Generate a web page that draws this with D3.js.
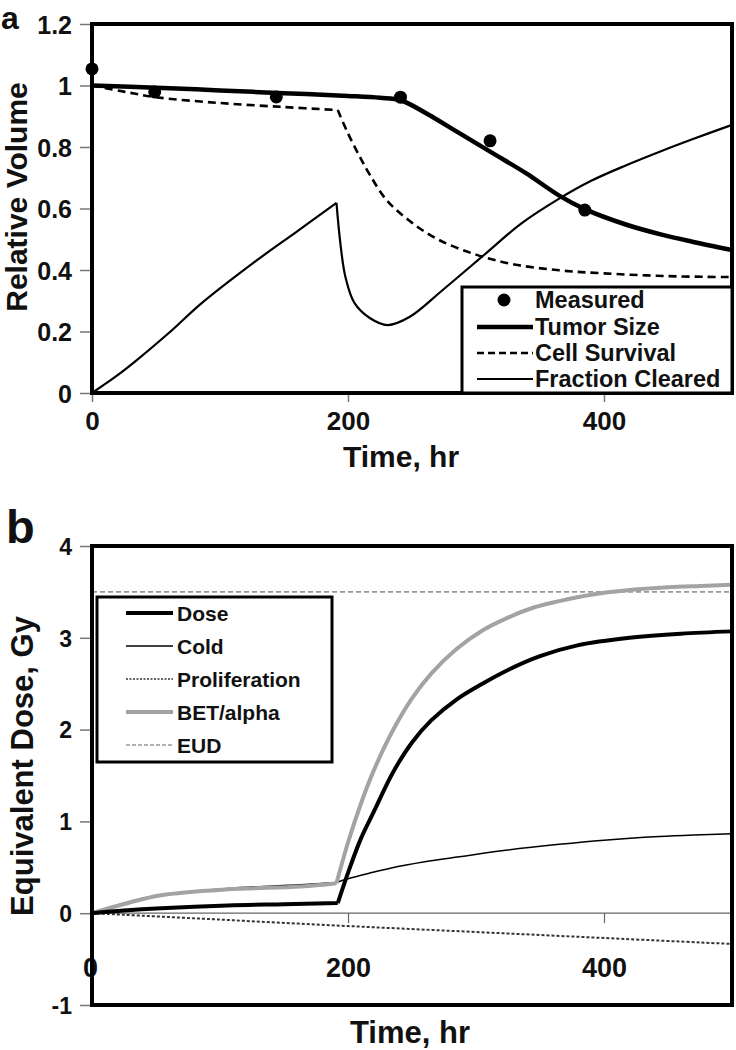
<!DOCTYPE html>
<html>
<head>
<meta charset="utf-8">
<script src="https://cdn.jsdelivr.net/npm/d3@7"></script>
<style>
html,body{margin:0;padding:0;background:#fff;}
svg{display:block;}
text{font-family:"Liberation Sans",Arial,Helvetica,sans-serif;font-weight:bold;fill:#111;}
</style>
</head>
<body>
<svg id="chart" width="736" height="1050"></svg>
<script>
// ---------- Panel a data ----------
const measuredT = [0, 49, 144, 241, 311, 385];
const measuredV = [1.054, 0.979, 0.963, 0.962, 0.82, 0.595];

const tumorT = [0, 50, 100, 150, 200, 225, 241, 261, 287, 313, 339, 365, 385, 417, 445, 469, 500];
const tumorV = [1.0, 0.993, 0.984, 0.975, 0.966, 0.96, 0.952, 0.91, 0.845, 0.78, 0.715, 0.642, 0.598, 0.548, 0.515, 0.492, 0.465];

const survivalT = [0, 25, 50, 100, 150, 192, 200, 209, 217, 230, 248, 270, 300, 330, 365, 400, 450, 500];
const survivalV = [1.0, 0.98, 0.962, 0.943, 0.93, 0.92, 0.844, 0.77, 0.71, 0.628, 0.56, 0.50, 0.45, 0.418, 0.399, 0.389, 0.38, 0.377];
const survivalBreaks = [192];

const clearedT = [0, 20, 35, 60, 85, 125, 160, 191, 194, 198, 205, 217, 231, 248, 274, 308, 335, 365, 390, 417, 445, 469, 500];
const clearedV = [0, 0.058, 0.107, 0.195, 0.29, 0.42, 0.525, 0.618, 0.488, 0.377, 0.293, 0.244, 0.221, 0.247, 0.335, 0.455, 0.55, 0.632, 0.69, 0.74, 0.787, 0.825, 0.872];
const clearedBreaks = [191];

const aYTicks = [0, 0.2, 0.4, 0.6, 0.8, 1, 1.2];
const aXTicks = [0, 200, 400];
const aLegend = ["Measured", "Tumor Size", "Cell Survival", "Fraction Cleared"];

// ---------- Panel b data ----------
const doseT = [0, 25, 54, 106, 150, 192, 200, 210, 220, 235, 250, 265, 285, 305, 325, 350, 380, 420, 460, 500];
const doseV = [0, 0.03, 0.055, 0.085, 0.098, 0.11, 0.44, 0.81, 1.1, 1.53, 1.86, 2.1, 2.33, 2.5, 2.65, 2.8, 2.92, 3.0, 3.045, 3.07];
const doseBreaks = [192];

const coldT = [0, 25, 54, 106, 163, 191, 200, 215, 233, 260, 287, 320, 365, 400, 443, 470, 500];
const coldV = [0, 0.11, 0.2, 0.27, 0.31, 0.335, 0.375, 0.43, 0.49, 0.56, 0.615, 0.68, 0.75, 0.795, 0.835, 0.852, 0.865];
const coldBreaks = [191];

const prolifT = [0, 100, 200, 300, 400, 500];
const prolifV = [0, -0.07, -0.14, -0.205, -0.27, -0.335];

const betT = [0, 25, 54, 106, 163, 191, 200, 210, 220, 235, 250, 265, 285, 305, 325, 345, 365, 390, 420, 450, 475, 500];
const betV = [0, 0.1, 0.196, 0.26, 0.29, 0.327, 0.77, 1.19, 1.55, 1.99, 2.34, 2.61, 2.88, 3.08, 3.22, 3.33, 3.40, 3.47, 3.52, 3.55, 3.565, 3.578];
const betBreaks = [191];

const eudT = [0, 500];
const eudV = [3.5, 3.5];

const bYTicks = [-1, 0, 1, 2, 3, 4];
const bXTicks = [0, 200, 400];
const bLegend = ["Dose", "Cold", "Proliferation", "BET/alpha", "EUD"];

// ---------- helpers ----------
const svg = d3.select("#chart");
const zip = (T, V) => T.map((t, i) => [t, V[i]]);
function segments(pts, breaks) {
  const segs = [];
  let cur = [];
  pts.forEach(p => {
    cur.push(p);
    if (breaks && breaks.includes(p[0])) { segs.push(cur); cur = [p]; }
  });
  if (cur.length > 1) segs.push(cur);
  return segs;
}
function drawSeries(g, x, y, T, V, breaks, style) {
  const line = d3.line().x(d => x(d[0])).y(d => y(d[1])).curve(d3.curveCatmullRom.alpha(0.5));
  const segs = segments(zip(T, V), breaks);
  const dstr = segs.map(s => line(s)).join("");
  const p = g.append("path").attr("d", dstr).attr("fill", "none")
    .attr("stroke", style.color).attr("stroke-width", style.width)
    .attr("stroke-linejoin", "round");
  if (style.dash) p.attr("stroke-dasharray", style.dash);
  return p;
}
function styleAxis(ax, size, lineColor) {
  ax.select(".domain").remove();
  ax.selectAll("line").attr("stroke", lineColor).attr("stroke-width", 1.5);
  ax.selectAll("text").attr("font-size", size)
    .attr("font-family", "Liberation Sans, Arial, sans-serif").attr("font-weight", "bold").attr("fill", "#111");
}

// ---------- Panel a ----------
const xA = d3.scaleLinear().domain([0, 500]).range([92, 732]);
const yA = d3.scaleLinear().domain([0, 1.2]).range([393, 24]);
const gA = svg.append("g");

const axA_y = gA.append("g").attr("transform", "translate(92,0)")
  .call(d3.axisLeft(yA).tickValues(aYTicks).tickSize(12).tickPadding(8).tickFormat(d => String(d)));
styleAxis(axA_y, 25, "#777");
axA_y.selectAll("text").attr("dy", "0.36em");

const axA_x = gA.append("g").attr("transform", "translate(0,393)")
  .call(d3.axisBottom(xA).tickValues(aXTicks).tickSize(9).tickPadding(10).tickFormat(d => String(d)));
styleAxis(axA_x, 26, "#777");

drawSeries(gA, xA, yA, clearedT, clearedV, clearedBreaks, {color: "#000", width: 2.2});
drawSeries(gA, xA, yA, survivalT, survivalV, survivalBreaks, {color: "#000", width: 2.6, dash: "8,5"});
drawSeries(gA, xA, yA, tumorT, tumorV, null, {color: "#000", width: 4.5});
gA.selectAll("circle.meas").data(zip(measuredT, measuredV)).enter().append("circle")
  .attr("class", "meas").attr("cx", d => xA(d[0])).attr("cy", d => yA(d[1])).attr("r", 6.5).attr("fill", "#000");

gA.append("rect").attr("x", 92).attr("y", 24).attr("width", 640).attr("height", 369)
  .attr("fill", "none").attr("stroke", "#000").attr("stroke-width", 4);

// legend a
const legA = gA.append("g");
legA.append("rect").attr("x", 462).attr("y", 287).attr("width", 270).attr("height", 106)
  .attr("fill", "#fff").attr("stroke", "#000").attr("stroke-width", 3);
const legAy = [300, 327, 353, 379];
legA.append("circle").attr("cx", 504).attr("cy", legAy[0]).attr("r", 6.5).attr("fill", "#000");
legA.append("line").attr("x1", 477).attr("x2", 533).attr("y1", legAy[1]).attr("y2", legAy[1]).attr("stroke", "#000").attr("stroke-width", 4.5);
legA.append("line").attr("x1", 477).attr("x2", 533).attr("y1", legAy[2]).attr("y2", legAy[2]).attr("stroke", "#000").attr("stroke-width", 2.6).attr("stroke-dasharray", "7,4");
legA.append("line").attr("x1", 477).attr("x2", 533).attr("y1", legAy[3]).attr("y2", legAy[3]).attr("stroke", "#000").attr("stroke-width", 2.2);
aLegend.forEach((s, i) => {
  legA.append("text").attr("x", 535).attr("y", legAy[i] + 8).attr("font-size", 23.5).text(s);
});

gA.append("text").attr("x", 401).attr("y", 467).attr("text-anchor", "middle").attr("font-size", 30).text("Time, hr");
gA.append("text").attr("transform", "translate(27,197) rotate(-90)").attr("text-anchor", "middle").attr("font-size", 30).text("Relative Volume");
gA.append("text").attr("x", 1).attr("y", 29).attr("font-size", 32).text("a");

// ---------- Panel b ----------
const xB = d3.scaleLinear().domain([0, 500]).range([92, 732]);
const yB = d3.scaleLinear().domain([-1, 4]).range([1005, 546]);
const gB = svg.append("g");

const axB_y = gB.append("g").attr("transform", "translate(92,0)")
  .call(d3.axisLeft(yB).tickValues(bYTicks).tickSize(12).tickPadding(8).tickFormat(d => String(d)));
styleAxis(axB_y, 23, "#777");
axB_y.selectAll("text").attr("dy", "0.36em");

gB.append("line").attr("x1", xB(0)).attr("x2", xB(500)).attr("y1", yB(0)).attr("y2", yB(0))
  .attr("stroke", "#666").attr("stroke-width", 1.2);
const axB_x = gB.append("g").attr("transform", `translate(0,${yB(0)})`)
  .call(d3.axisBottom(xB).tickValues(bXTicks).tickSize(10).tickPadding(35).tickFormat(d => String(d)));
styleAxis(axB_x, 27, "#666");
axB_x.selectAll("line").attr("stroke-width", 1.2);
axB_x.selectAll(".tick").filter(d => d === 0).select("text").attr("dx", "-2");

drawSeries(gB, xB, yB, eudT, eudV, null, {color: "#999", width: 1.6, dash: "5,3"});
drawSeries(gB, xB, yB, prolifT, prolifV, null, {color: "#333", width: 2, dash: "3,2"});
drawSeries(gB, xB, yB, coldT, coldV, coldBreaks, {color: "#000", width: 1.5});
drawSeries(gB, xB, yB, betT, betV, betBreaks, {color: "#a3a3a3", width: 4});
drawSeries(gB, xB, yB, doseT, doseV, doseBreaks, {color: "#000", width: 4});

gB.append("rect").attr("x", 92).attr("y", 546).attr("width", 640).attr("height", 459)
  .attr("fill", "none").attr("stroke", "#000").attr("stroke-width", 4);

// legend b
const legB = gB.append("g");
legB.append("rect").attr("x", 97).attr("y", 597).attr("width", 235).attr("height", 165)
  .attr("fill", "#fff").attr("stroke", "#000").attr("stroke-width", 3);
const legBy = [613, 646, 679, 712, 745];
const legBstyles = [
  {color: "#000", width: 4},
  {color: "#000", width: 1.3},
  {color: "#333", width: 1.5, dash: "2,1.5"},
  {color: "#a3a3a3", width: 4},
  {color: "#999", width: 1.3, dash: "4,2"}
];
bLegend.forEach((s, i) => {
  const st = legBstyles[i];
  const l = legB.append("line").attr("x1", 126).attr("x2", 173).attr("y1", legBy[i]).attr("y2", legBy[i])
    .attr("stroke", st.color).attr("stroke-width", st.width);
  if (st.dash) l.attr("stroke-dasharray", st.dash);
  legB.append("text").attr("x", 177).attr("y", legBy[i] + 7.5).attr("font-size", 21).text(s);
});

gB.append("text").attr("x", 410).attr("y", 1043).attr("text-anchor", "middle").attr("font-size", 31).text("Time, hr");
gB.append("text").attr("transform", "translate(33,766) rotate(-90)").attr("text-anchor", "middle").attr("font-size", 31).text("Equivalent Dose, Gy");
gB.append("text").attr("x", 6).attr("y", 543).attr("font-size", 47).text("b");
</script>
</body>
</html>
